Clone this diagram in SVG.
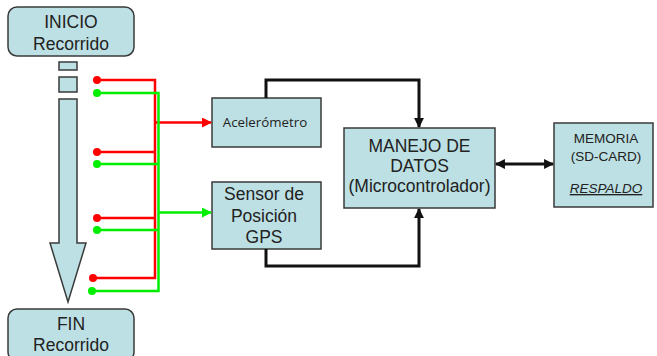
<svg xmlns="http://www.w3.org/2000/svg" width="657" height="356" viewBox="0 0 657 356">
<style>
.box{fill:#bde0e4;stroke:#3a3a3a;stroke-width:1.5}
.t{font-family:"Liberation Sans",Arial,sans-serif;fill:#222;text-anchor:middle}
.red{stroke:#ff0000;fill:none;stroke-width:2.5}
.grn{stroke:#00ee00;fill:none;stroke-width:2.5}
.blk{stroke:#111;fill:none;stroke-width:3}
</style>
<defs>
<marker id="ar" viewBox="0 0 10 10" refX="9" refY="5" markerWidth="4" markerHeight="4" orient="auto"><path d="M0,0 L10,5 L0,10 z" fill="#ff0000"/></marker>
<marker id="ag" viewBox="0 0 10 10" refX="9" refY="5" markerWidth="4" markerHeight="4" orient="auto"><path d="M0,0 L10,5 L0,10 z" fill="#00ee00"/></marker>
<marker id="ab" viewBox="0 0 10 10" refX="9" refY="5" markerWidth="3.3" markerHeight="3.3" orient="auto-start-reverse"><path d="M0,0 L10,5 L0,10 z" fill="#111"/></marker>
</defs>
<rect width="657" height="356" fill="#fff"/>

<g id="inicio">
<rect class="box" x="8" y="7" width="126" height="49" rx="9"/>
<text class="t" x="71" y="28" font-size="17.5">INICIO</text>
<text class="t" x="71" y="50" font-size="17.5">Recorrido</text>
</g>

<g id="flecha-recorrido">
<rect class="box" x="59" y="62" width="18" height="8"/>
<rect class="box" x="59" y="77" width="18" height="15"/>
<path class="box" d="M59,99 H77 V243 H86 L68,302 L50,243 H59 Z"/>
</g>

<g id="fin">
<rect class="box" x="8" y="309" width="126" height="52" rx="9"/>
<text class="t" x="71" y="330" font-size="17.5">FIN</text>
<text class="t" x="71" y="351" font-size="17.5">Recorrido</text>
</g>

<g id="acelerometro">
<rect class="box" x="212" y="98" width="109" height="49"/>
<text class="t" x="265" y="127" font-size="13.3" style="font-family:'Open Sans','Liberation Sans',sans-serif">Acelerómetro</text>
</g>

<g id="gps">
<rect class="box" x="212" y="182" width="109" height="67"/>
<text class="t" x="264" y="200" font-size="17.5">Sensor de</text>
<text class="t" x="264" y="222" font-size="17.5">Posición</text>
<text class="t" x="264" y="243" font-size="17.5">GPS</text>
</g>

<g id="manejo">
<rect class="box" x="344" y="128" width="151" height="80"/>
<text class="t" x="419.5" y="152" font-size="17.5">MANEJO DE</text>
<text class="t" x="419.5" y="172" font-size="17.5">DATOS</text>
<text class="t" x="419.5" y="192" font-size="17.5">(Microcontrolador)</text>
</g>

<g id="memoria">
<rect class="box" x="554" y="123" width="99" height="84"/>
<text class="t" x="606" y="143" font-size="13.5">MEMORIA</text>
<text class="t" x="606" y="161" font-size="13.5">(SD-CARD)</text>
<text class="t" x="606" y="193" font-size="13.5" font-style="italic" text-decoration="underline">RESPALDO</text>
</g>

<g id="conectores">
<!-- red -->
<path class="red" d="M97,80 H155 V278 H93"/>
<path class="red" d="M97,152 H155"/>
<path class="red" d="M97,218 H155"/>
<path class="red" d="M155,122.5 H211" stroke-width="3" marker-end="url(#ar)"/>
<circle cx="97" cy="80" r="4" fill="#ff0000"/>
<circle cx="97" cy="152" r="4" fill="#ff0000"/>
<circle cx="97" cy="218" r="4" fill="#ff0000"/>
<circle cx="93" cy="278" r="4" fill="#ff0000"/>
<!-- green -->
<path class="grn" d="M97,93 H158.5 V291 H92"/>
<path class="grn" d="M97,164 H158.5"/>
<path class="grn" d="M97,230 H158.5"/>
<path class="grn" d="M158.5,212.5 H211" marker-end="url(#ag)"/>
<circle cx="97" cy="93" r="4" fill="#00ee00"/>
<circle cx="97" cy="164" r="4" fill="#00ee00"/>
<circle cx="97" cy="230" r="4" fill="#00ee00"/>
<circle cx="92" cy="291" r="4" fill="#00ee00"/>
<!-- black -->
<path class="blk" d="M266,98 V80 H419 V127" marker-end="url(#ab)"/>
<path class="blk" d="M266,249 V266 H419 V209" marker-end="url(#ab)"/>
<path class="blk" d="M496,164 H553" marker-start="url(#ab)" marker-end="url(#ab)"/>
</g>
</svg>
